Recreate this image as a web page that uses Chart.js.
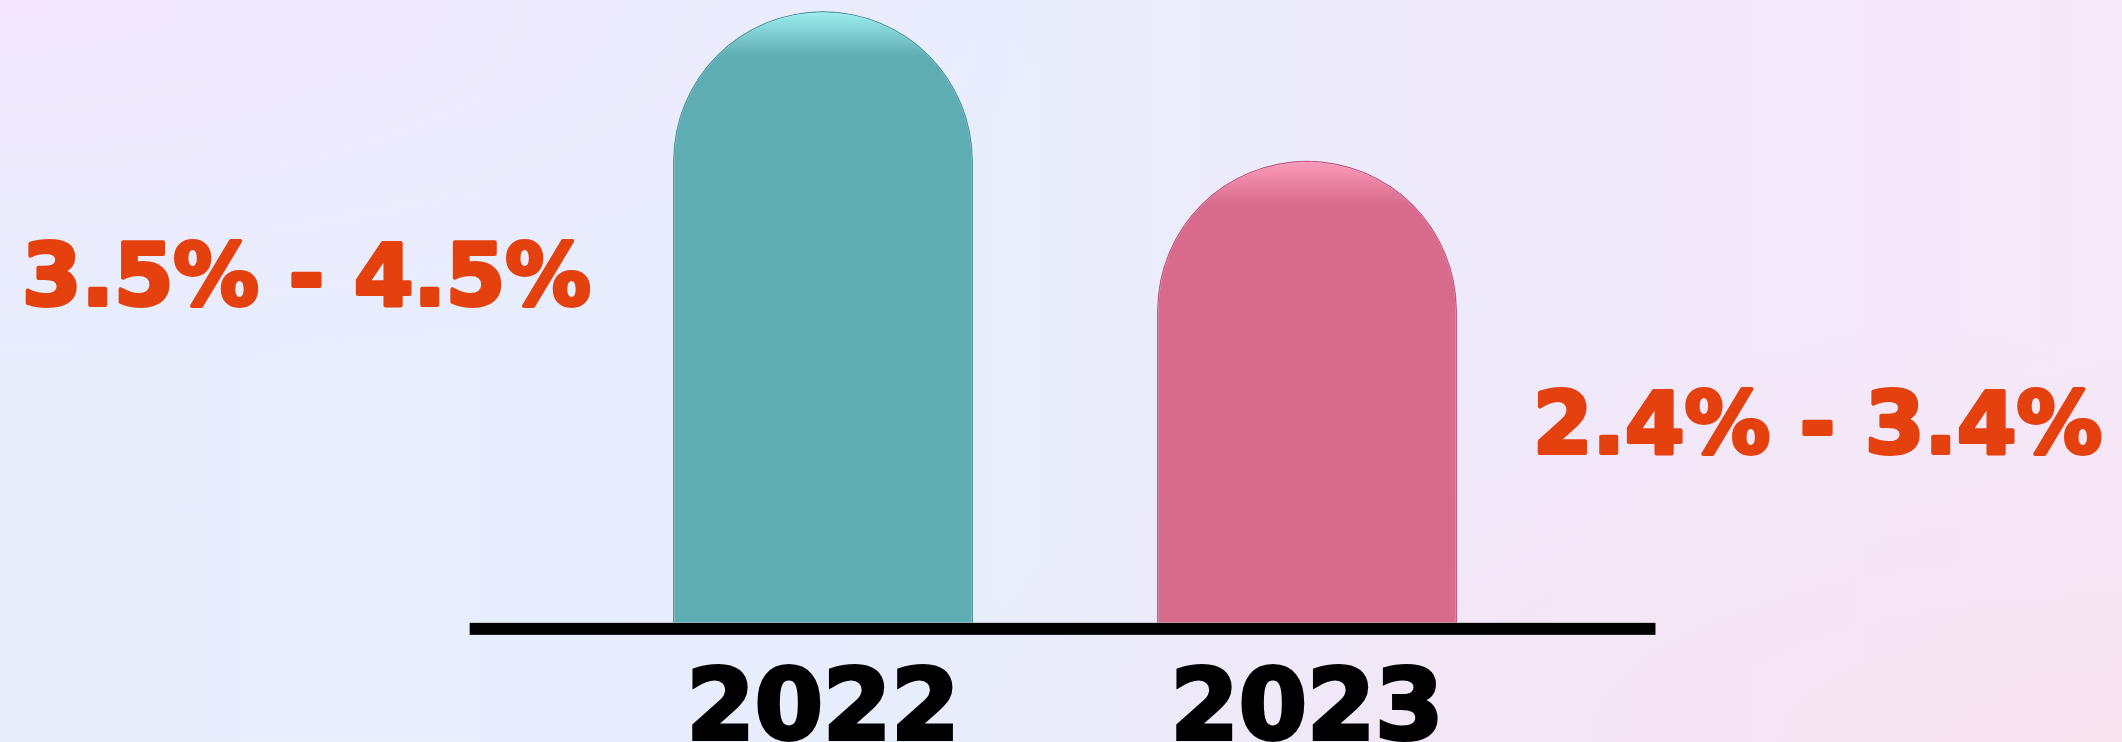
<!DOCTYPE html>
<html>
<head>
<meta charset="utf-8">
<script src="https://cdn.jsdelivr.net/npm/chart.js@4.4.1/dist/chart.umd.min.js"></script>
<style>
  html, body { margin: 0; padding: 0; }
  body {
    width: 2122px; height: 742px; overflow: hidden;
    background:
      radial-gradient(ellipse at 100% 100%, rgba(248,226,238,0.9), rgba(248,226,238,0) 40%),
      radial-gradient(ellipse at 0% 0%, rgba(244,230,252,0.9), rgba(244,230,252,0) 35%),
      linear-gradient(90deg, #e6eefc 0%, #e8edfc 45%, #f0e9fb 75%, #f5e8f8 100%);
  }
  #wrap { position: relative; width: 2122px; height: 742px; }
</style>
</head>
<body>
<div id="wrap"><canvas id="barChart" width="2122" height="742"></canvas></div>
<script>
// chart values
var years = ["2022", "2023"]
var growthTop = [4.5, 3.4]
var rangeLabels = ["3.5% - 4.5%", "2.4% - 3.4%"]
var barColors = ["#5eadb2", "#d86a8b"]
var barLights = ["#9ff0f0", "#fb9bbb"]
var barEdges = ["#4f9aa0", "#c45a7c"]

// where the range texts sit (y value, side of bar)
var labelAt = [2.5, 1.41]
var labelSide = ["left", "right"]

// long black base line under the bars
var baseLine = {
    id: 'baseLine',
    afterDatasetsDraw: function(chart) {
        var ctx = chart.ctx
        var x = chart.scales.x
        var y = chart.scales.y
        var step = x.getPixelForValue(1) - x.getPixelForValue(0)
        var y0 = y.getPixelForValue(0)
        ctx.save()
        ctx.fillStyle = "#000"
        ctx.fillRect(x.getPixelForValue(0) - step * 0.73, y0, step * 2.45, 12)
        ctx.restore()
    }
}

// orange range texts beside each bar
var rangeText = {
    id: 'rangeText',
    afterDatasetsDraw: function(chart) {
        var ctx = chart.ctx
        var meta = chart.getDatasetMeta(0)
        var y = chart.scales.y
        ctx.save()
        ctx.fillStyle = "#e4410f"
        ctx.strokeStyle = "#e4410f"
        ctx.lineWidth = 4
        ctx.lineJoin = "round"
        ctx.font = "bold 86px 'DejaVu Sans', sans-serif"
        ctx.textBaseline = "middle"
        for (var i = 0; i < rangeLabels.length; i++) {
            var bar = meta.data[i]
            var half = bar.width / 2
            var py = y.getPixelForValue(labelAt[i])
            var w = ctx.measureText(rangeLabels[i]).width
            var sx = 569 / w
            ctx.save()
            if (labelSide[i] == "left") {
                ctx.translate(bar.x - half - 82 - 569, py)
            } else {
                ctx.translate(bar.x + half + 76, py)
            }
            ctx.scale(sx, 1)
            ctx.textAlign = "left"
            ctx.strokeText(rangeLabels[i], 0, 0)
            ctx.fillText(rangeLabels[i], 0, 0)
            ctx.restore()
        }
        ctx.restore()
    }
}

var canvas = document.getElementById("barChart")
var myChart = new Chart(canvas, {
    type: 'bar',
    data: {
        labels: years,
        datasets: [{
            data: growthTop,
            backgroundColor: function(c) {
                var ys = c.chart.scales.y
                if (!c.chart.chartArea || !ys) return barColors[c.dataIndex]
                var top = ys.getPixelForValue(c.raw)
                if (!isFinite(top)) return barColors[c.dataIndex]
                var g = c.chart.ctx.createLinearGradient(0, top, 0, top + 45)
                g.addColorStop(0, barLights[c.dataIndex])
                g.addColorStop(1, barColors[c.dataIndex])
                return g
            },
            borderColor: barEdges,
            borderWidth: 1.5,
            borderSkipped: 'bottom',
            borderRadius: { topLeft: 200, topRight: 200 },
            barPercentage: 0.62,
            categoryPercentage: 1
        }]
    },
    plugins: [baseLine, rangeText],
    options: {
        responsive: false,
        animation: false,
        layout: { padding: { left: 581, right: 573, top: 11, bottom: -55 } },
        plugins: { legend: { display: false }, tooltip: { enabled: false } },
        scales: {
            x: {
                grid: { display: false },
                border: { display: false },
                ticks: {
                    color: "#000",
                    textStrokeColor: "#000",
                    textStrokeWidth: 4,
                    padding: 38,
                    font: { family: "'DejaVu Sans', sans-serif", weight: 'bold', size: 98, lineHeight: 0.92 }
                }
            },
            y: {
                display: false,
                min: 0,
                max: 4.5
            }
        }
    }
})
</script>
</body>
</html>
